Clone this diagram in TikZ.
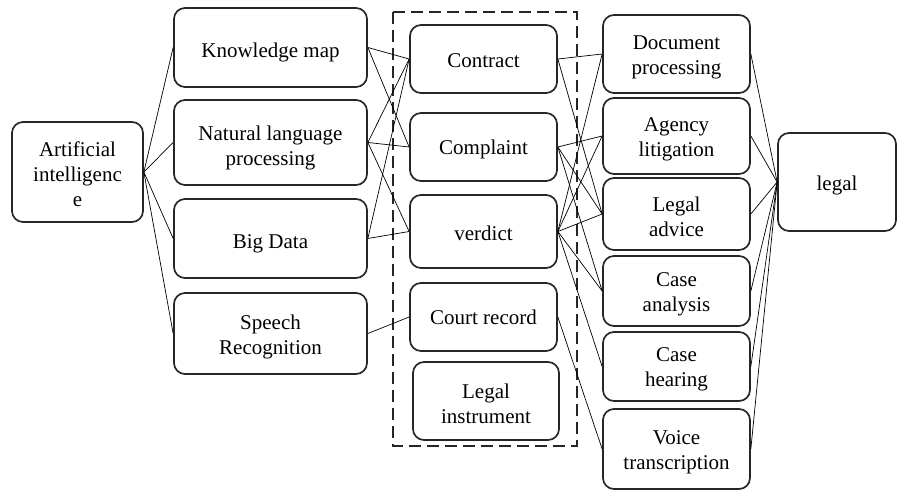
\documentclass[tikz,border=0pt]{standalone}
\usepackage{fontspec}
\setmainfont{Liberation Serif}
\begin{document}
\begin{tikzpicture}[x=1pt,y=-1pt,
  box/.style={draw=black!85, line width=1.7pt, rounded corners=11pt, inner sep=0pt},
  txt/.style={align=center, inner sep=0pt, font=\fontsize{21}{25}\selectfont},
  link/.style={draw=black, line width=0.7pt}]
\useasboundingbox (0,0) rectangle (898,490);
% left column
\node[box, minimum width=131pt, minimum height=100pt, label={[txt,yshift=-2pt]center:Artificial\\intelligenc\\e}] (ai) at (77.5,172) {};
\node[box, minimum width=193pt, minimum height=79pt, label={[txt,yshift=-5pt]center:Knowledge map}] (km) at (270.5,47.5) {};
\node[box, minimum width=193pt, minimum height=85pt, label={[txt,yshift=-5pt]center:Natural language\\processing}] (nlp) at (270.5,142.5) {};
\node[box, minimum width=193pt, minimum height=79pt, label={[txt,yshift=-5pt]center:Big Data}] (bd) at (270.5,238.5) {};
\node[box, minimum width=193pt, minimum height=81pt, label={[txt,yshift=-3pt]center:Speech\\Recognition}] (sr) at (270.5,333.5) {};
% middle column
\draw[line width=1.7pt, dash pattern=on 12pt off 6pt, draw=black!85] (393,12) rectangle (577,446);
\node[box, minimum width=147pt, minimum height=68pt, label={[txt,yshift=-2pt]center:Contract}] (con) at (483.5,59) {};
\node[box, minimum width=147pt, minimum height=68pt, label={[txt,yshift=-2pt]center:Complaint}] (com) at (483.5,147) {};
\node[box, minimum width=147pt, minimum height=73pt, label={[txt,yshift=-2pt]center:verdict}] (ver) at (483.5,231.5) {};
\node[box, minimum width=147pt, minimum height=68pt, label={[txt]center:Court record}] (cr) at (483.5,317) {};
\node[box, minimum width=146pt, minimum height=78pt, label={[txt,yshift=-3pt]center:Legal\\instrument}] (li) at (486,401) {};
% right column
\node[box, minimum width=147pt, minimum height=78pt, label={[txt,yshift=-3pt]center:Document\\processing}] (doc) at (676.5,54) {};
\node[box, minimum width=147pt, minimum height=76pt, label={[txt,yshift=-3pt]center:Agency\\litigation}] (ag) at (676.5,136) {};
\node[box, minimum width=147pt, minimum height=72pt, label={[txt,yshift=-3pt]center:Legal\\advice}] (la) at (676.5,214) {};
\node[box, minimum width=147pt, minimum height=70pt, label={[txt,yshift=-3pt]center:Case\\analysis}] (ca) at (676.5,291) {};
\node[box, minimum width=147pt, minimum height=69pt, label={[txt,yshift=-3pt]center:Case\\hearing}] (ch) at (676.5,366.5) {};
\node[box, minimum width=147pt, minimum height=80pt, label={[txt,yshift=-3pt]center:Voice\\transcription}] (vt) at (676.5,449) {};
\node[box, minimum width=118pt, minimum height=98pt, label={[txt,yshift=-3pt]center:legal}] (lg) at (837,182) {};
% connectors: AI to technologies
\foreach \t in {km,nlp,bd,sr} \draw[link] (ai.east) -- (\t.west);
% technologies to documents
\draw[link] (km.east) -- (con.west);
\draw[link] (km.east) -- (com.west);
\draw[link] (nlp.east) -- (con.west);
\draw[link] (nlp.east) -- (com.west);
\draw[link] (nlp.east) -- (ver.west);
\draw[link] (bd.east) -- (con.west);
\draw[link] (bd.east) -- (ver.west);
\draw[link] (sr.east) -- (cr.west);
% documents to applications
\draw[link] (con.east) -- (doc.west);
\draw[link] (con.east) -- (la.west);
\draw[link] (com.east) -- (ag.west);
\draw[link] (com.east) -- (la.west);
\draw[link] (com.east) -- (ca.west);
\draw[link] (ver.east) -- (doc.west);
\draw[link] (ver.east) -- (ag.west);
\draw[link] (ver.east) -- (la.west);
\draw[link] (ver.east) -- (ca.west);
\draw[link] (ver.east) -- (ch.west);
\draw[link] (cr.east) -- (vt.west);
% applications to legal
\foreach \a in {doc,ag,la,ca,ch,vt} \draw[link] (\a.east) -- (lg.west);
\end{tikzpicture}
\end{document}
